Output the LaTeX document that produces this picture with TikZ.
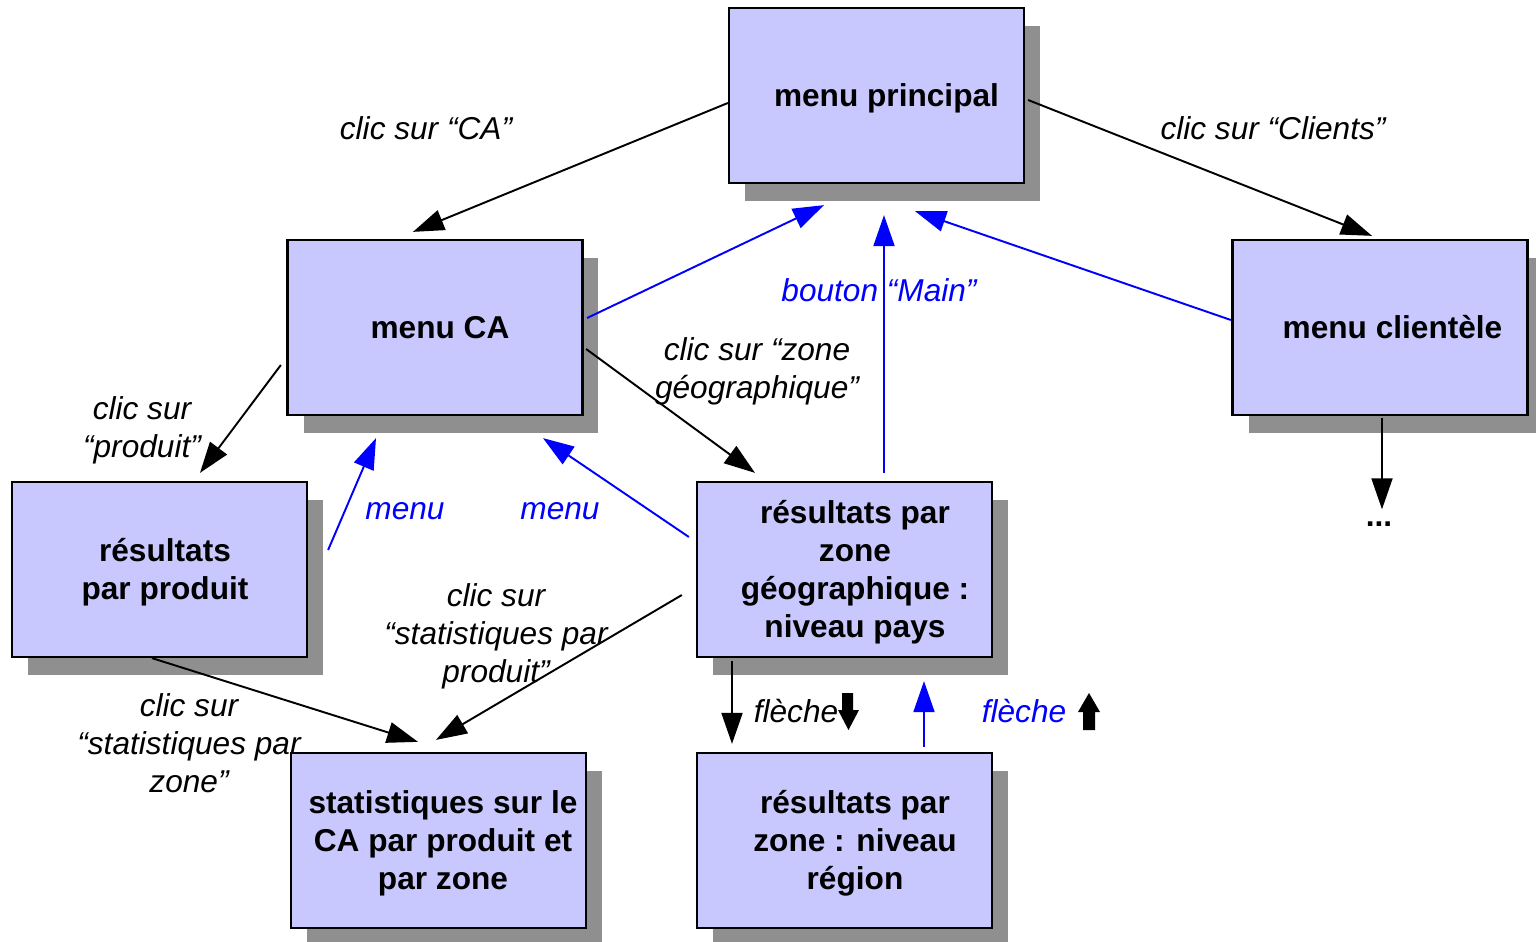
\documentclass[tikz,border=0pt]{standalone}
\usepackage{fontspec}
\setmainfont{Liberation Sans}
\usepackage{xcolor}
\usepackage{tikz}
\usetikzlibrary{arrows.meta,shadows,positioning}

\definecolor{boxfill}{RGB}{200,200,255}
\definecolor{shadowgray}{RGB}{143,143,143}

% texte d'un ecran, un peu decale vers la droite et vers le bas
\newcommand{\ecrantxt}[2]{\hspace*{#1}\raisebox{-0.06cm}[\height][\depth]{\begin{tabular}{@{}c@{}}#2\end{tabular}}}

\tikzset{
  ecran/.style={draw, line width=1.3pt, fill=boxfill, minimum width=5.9cm, minimum height=3.5cm,
    align=center, font=\bfseries\fontsize{18}{21.6}\selectfont,
    drop shadow={shadow xshift=0.32cm, shadow yshift=-0.36cm, fill=shadowgray, opacity=1}},
  lien/.style={line width=1.1pt, -{Triangle[length=0.62cm,width=0.42cm]}},
  retour/.style={lien, blue},
  etiq/.style={align=center, font=\itshape\fontsize{18}{21.6}\selectfont},
}

\begin{document}
\begin{tikzpicture}[x=0.02cm, y=-0.02cm]
  \useasboundingbox (0,0) rectangle (1536,942);

  % les ecrans
  \node[ecran] (principal) at (876.5,95.5) {\ecrantxt{0.4cm}{menu principal}};
  \node[ecran] (ca) at (435,327.5) {\ecrantxt{0.2cm}{menu CA}};
  \node[ecran] (clientele) at (1380,327.5) {\ecrantxt{0.5cm}{menu clientèle}};
  \node[ecran] (produit) at (159.5,569.5) {\ecrantxt{0.22cm}{résultats\\par produit}};
  \node[ecran] (pays) at (844.5,569.5) {\ecrantxt{0.42cm}{résultats par\\zone\\géographique :\\niveau pays}};
  \node[ecran] (stats) at (438.5,840.5) {\ecrantxt{0.18cm}{statistiques sur le\\CA par produit et\\par zone}};
  \node[ecran] (region) at (844.5,840.5) {\ecrantxt{0.42cm}{résultats par\\zone : niveau\\région}};
  \node[inner sep=0pt, font=\bfseries\fontsize{18}{21.6}\selectfont] (suite) at (1379,524) {...};

  % navigation vers le bas
  \draw[lien] ([shift={(0,7.5)}]principal.west) -- ([shift={(-22,-7)}]ca.north);
  \draw[lien] ([shift={(3,4.5)}]principal.east) -- ([shift={(-8,-3)}]clientele.north);
  \draw[lien] ([shift={(-5.5,37.5)}]ca.west) -- ([shift={(40.5,-8)}]produit.north);
  \draw[lien] ([shift={(2.5,21.5)}]ca.east) -- ([shift={(-89.5,-8)}]pays.north);
  \draw[lien] ([shift={(-7.5,0)}]produit.south) -- ([shift={(-20.5,-10)}]stats.north);
  \draw[lien] ([shift={(-14,25.5)}]pays.west) -- ([shift={(-2.5,-12)}]stats.north);
  \draw[lien] ([shift={(-112.5,3)}]pays.south) -- ([shift={(-112.5,-8)}]region.north);
  \draw[lien] ([shift={(2,2)}]clientele.south) -- ([shift={(3,-12)}]suite.north);

  % retours
  \draw[retour] ([shift={(3.5,-9.5)}]ca.east) -- ([shift={(-52.5,21)}]principal.south);
  \draw[retour] ([shift={(39.5,-8)}]pays.north) -- ([shift={(7.5,31)}]principal.south);
  \draw[retour] ([shift={(-0.5,-7.5)}]clientele.west) -- ([shift={(38.5,27)}]principal.south);
  \draw[retour] ([shift={(20,-19.5)}]produit.east) -- ([shift={(-59,22)}]ca.south);
  \draw[retour] ([shift={(-7,-32.5)}]pays.west) -- ([shift={(108,22)}]ca.south);
  \draw[retour] ([shift={(79.5,-5)}]region.north) -- ([shift={(79.5,23)}]pays.south);

  % etiquettes
  \node[etiq] (l1) at (426,128) {clic sur “CA”};
  \node[etiq] (l2) at (1273,128) {clic sur “Clients”};
  \node[etiq, text=blue] (l3) at (879,290) {bouton “Main”};
  \node[etiq] (l4) at (757,371) {clic sur “zone\\géographique”};
  \node[etiq] (l5) at (142,430) {clic sur\\“produit”};
  \node[etiq, text=blue] (l6) at (405,511) {menu};
  \node[etiq, text=blue] (l7) at (560,511) {menu};
  \node[etiq] (l8) at (496,636) {clic sur\\“statistiques par\\produit”};
  \node[etiq] (l9) at (189,743) {clic sur\\“statistiques par\\zone”};
  \node[etiq] (flechebas) at (796,711) {flèche};
  \node[etiq, text=blue] (flechehaut) at (1024,711) {flèche};

  \fill (flechebas.center) ++(46,-18) -- ++(11,0) -- ++(0,17) -- ++(6,0) -- ++(-10.5,20) -- ++(-10.5,-20) -- ++(4,0) -- cycle;
  \fill (flechehaut.center) ++(59,19) -- ++(12,0) -- ++(0,-18) -- ++(5,0) -- ++(-11,-19) -- ++(-11,19) -- ++(5,0) -- cycle;
\end{tikzpicture}
\end{document}
